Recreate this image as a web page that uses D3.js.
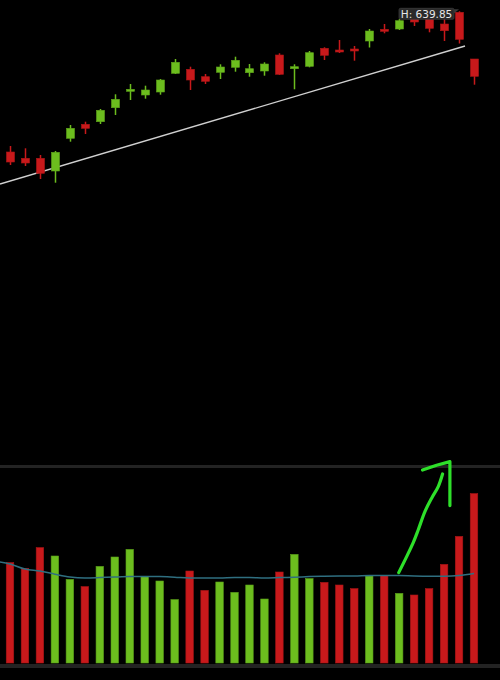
<!DOCTYPE html>
<html>
<head>
<meta charset="utf-8">
<script src="https://cdn.jsdelivr.net/npm/d3@7"></script>
<style>
  html, body { margin: 0; padding: 0; background: #000; }
  svg { display: block; }
</style>
</head>
<body>
<div class="container"></div>
<script>
// candle data, one entry per session (open, high, low, close)
const opens  = [569.5, 566.35, 566.35, 560, 576.35, 583.35, 584.65, 591.65, 599.85, 598, 599.5, 608.85, 610.85, 607.15, 609.35, 611.85, 609.15, 610, 618, 611.15, 612.35, 621.35, 620.5, 621, 625, 630.85, 631, 638, 637.5, 633.5, 639.35, 616];
const highs  = [572.5, 571.35, 568, 570, 583, 584.65, 591, 598.35, 603.5, 602.65, 606, 616, 612.15, 608.5, 613.35, 617.15, 613.5, 614.35, 618.85, 613.35, 620, 621.85, 625.5, 622.5, 631, 633.5, 636, 639.5, 639, 636.35, 639.85, 616];
const lows   = [563, 562.5, 556, 554.15, 574.65, 578.5, 583.5, 588, 595.5, 596.15, 598.15, 608.5, 600.5, 603.5, 606, 609.65, 607.15, 607.65, 608, 600.85, 611.85, 615.5, 619, 615.15, 621.75, 628.85, 630.5, 632.5, 629.35, 625, 623.75, 603.15];
const closes = [564.5, 564, 558.85, 569.35, 581.35, 581.35, 590.35, 595.85, 600.85, 600.5, 605.5, 614.35, 605.5, 604.85, 612, 615.35, 611.15, 613.5, 608.35, 612.15, 619.15, 617.85, 619.65, 620.15, 630, 629.85, 635.15, 634.5, 631.35, 630.15, 625.85, 607.35];

// volume (millions) and its moving average (first MA value belongs to the session before)
const volumes = [5.02, 4.73, 5.77, 5.35, 4.18, 3.82, 4.83, 5.30, 5.68, 4.32, 4.10, 3.17, 4.60, 3.63, 4.05, 3.53, 3.90, 3.20, 4.55, 5.43, 4.22, 4.03, 3.90, 3.72, 4.35, 4.37, 3.48, 3.40, 3.72, 4.93, 6.33, 8.47];
const volumeMA = [5.08, 4.95, 4.70, 4.60, 4.44, 4.30, 4.25, 4.27, 4.30, 4.32, 4.32, 4.32, 4.29, 4.25, 4.25, 4.25, 4.27, 4.27, 4.25, 4.27, 4.29, 4.32, 4.34, 4.35, 4.35, 4.37, 4.37, 4.37, 4.35, 4.34, 4.34, 4.37, 4.47];

// trend line drawn on the price panel: [index, price]
const trendLine = [[-0.668, 553.5], [30.4, 622.5]];

// hand-drawn arrow on the volume panel: [index, volume]
const arrowShaft = [[25.97, 4.52], [26.5, 5.32], [26.94, 6.02], [27.27, 6.65], [27.72, 7.57], [28.17, 8.24], [28.61, 8.82], [28.9, 9.45]];
const arrowHead = [[27.56, 9.65], [28.5, 9.89], [29.39, 10.07], [29.39, 7.87]];

const globals = {
  up: '#6cbd1e',
  down: '#c8191b',
  background: '#000',
  panelLine: '#232323',
  maColor: '#2f6f80',
  trendColor: '#d0d0d0',
  arrowColor: '#2ee02a'
};

const width = 500;
const height = 680;

const svg = d3.select('.container')
  .append('svg')
  .attr('width', width)
  .attr('height', height);

svg.append('rect')
  .attr('width', width)
  .attr('height', height)
  .attr('fill', globals.background);

const candles = opens.map((o, i) => ({
  i, open: o, high: highs[i], low: lows[i], close: closes[i], volume: volumes[i]
}));

// scales
const xScale = d3.scaleLinear().domain([0, 31]).range([10, 474]);
const yPrice = d3.scaleLinear().domain([550, 640]).range([191, 11]);
const yVolume = d3.scaleLinear().domain([0, 10]).range([663, 463]);

const bodyWidth = 8;
const barWidth = 7.5;

// panel separators
svg.append('rect')
  .attr('x', 0).attr('y', 465)
  .attr('width', width).attr('height', 3)
  .attr('fill', globals.panelLine);

svg.append('rect')
  .attr('x', 0).attr('y', 664)
  .attr('width', width).attr('height', 4)
  .attr('fill', globals.panelLine);

// trend line
svg.append('line')
  .attr('x1', xScale(trendLine[0][0]))
  .attr('y1', yPrice(trendLine[0][1]))
  .attr('x2', xScale(trendLine[1][0]))
  .attr('y2', yPrice(trendLine[1][1]))
  .attr('stroke', globals.trendColor)
  .attr('stroke-width', 1.4);

// candles
const candleGroup = svg.append('g')
  .selectAll('g')
  .data(candles)
  .enter()
  .append('g');

candleGroup.append('line')
  .attr('x1', d => Math.round(xScale(d.i)) + 0.5)
  .attr('x2', d => Math.round(xScale(d.i)) + 0.5)
  .attr('y1', d => yPrice(d.high))
  .attr('y2', d => yPrice(d.low))
  .attr('stroke', d => d.close >= d.open ? globals.up : globals.down)
  .attr('stroke-width', 1.5);

candleGroup.append('rect')
  .attr('x', d => Math.round(xScale(d.i)) + 0.5 - bodyWidth / 2)
  .attr('y', d => yPrice(Math.max(d.open, d.close)))
  .attr('width', bodyWidth)
  .attr('height', d => Math.max(2, Math.abs(yPrice(d.open) - yPrice(d.close))))
  .attr('fill', d => d.close >= d.open ? globals.up : globals.down)
  .attr('stroke', d => d3.color(d.close >= d.open ? globals.up : globals.down).darker(0.4))
  .attr('stroke-width', 0.6);

// volume bars
svg.append('g')
  .selectAll('rect')
  .data(candles)
  .enter()
  .append('rect')
  .attr('x', d => xScale(d.i) - barWidth / 2)
  .attr('y', d => yVolume(d.volume))
  .attr('width', barWidth)
  .attr('height', d => yVolume(0) - yVolume(d.volume))
  .attr('fill', d => d.close >= d.open ? globals.up : globals.down)
  .attr('stroke', d => d3.color(d.close >= d.open ? globals.up : globals.down).darker(0.5))
  .attr('stroke-width', 0.6);

// volume moving average
const maLine = d3.line()
  .x((d, i) => xScale(i - 1))
  .y(d => yVolume(d))
  .curve(d3.curveMonotoneX);

svg.append('path')
  .datum(volumeMA)
  .attr('d', maLine)
  .attr('fill', 'none')
  .attr('stroke', globals.maColor)
  .attr('stroke-width', 1.5);

// hand-drawn arrow
const arrowLine = d3.line()
  .x(d => xScale(d[0]))
  .y(d => yVolume(d[1]))
  .curve(d3.curveCatmullRom);

svg.append('path')
  .datum(arrowShaft)
  .attr('d', arrowLine)
  .attr('fill', 'none')
  .attr('stroke', globals.arrowColor)
  .attr('stroke-width', 3.2)
  .attr('stroke-linecap', 'round');

svg.append('path')
  .datum(arrowHead)
  .attr('d', d3.line().x(d => xScale(d[0])).y(d => yVolume(d[1])))
  .attr('fill', 'none')
  .attr('stroke', globals.arrowColor)
  .attr('stroke-width', 3.2)
  .attr('stroke-linecap', 'round')
  .attr('stroke-linejoin', 'round');

// high label pointing at the highest candle
const highest = candles[d3.maxIndex(candles, d => d.high)];
const labelRight = xScale(highest.i) - 5;
const labelTop = yPrice(highest.high) - 3;
const label = svg.append('g');

label.append('path')
  .attr('d', `M${labelRight - 1},${labelTop + 1} L${labelRight + 5},${labelTop + 1} L${labelRight - 1},${labelTop + 6} Z`)
  .attr('fill', '#3a3a3a');

label.append('rect')
  .attr('x', labelRight - 55)
  .attr('y', labelTop)
  .attr('width', 55)
  .attr('height', 11)
  .attr('rx', 1.5)
  .attr('fill', '#2a2a2a')
  .attr('stroke', '#3c3c3c')
  .attr('stroke-width', 0.8);

label.append('text')
  .attr('x', labelRight - 27.5)
  .attr('y', labelTop + 9.3)
  .attr('text-anchor', 'middle')
  .attr('font-family', 'DejaVu Sans, sans-serif')
  .attr('font-size', '10.5px')
  .attr('fill', '#e6e6e6')
  .text(`H: ${highest.high.toFixed(2)}`);
</script>
</body>
</html>
